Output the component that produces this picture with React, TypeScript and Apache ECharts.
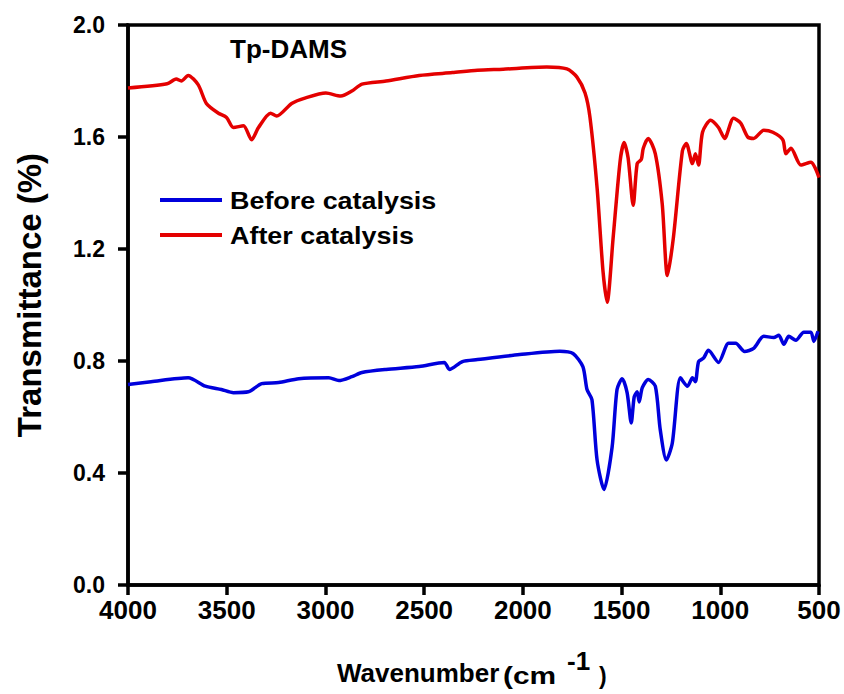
import React, { useEffect, useRef } from "react";
import * as echarts from "echarts";

// FTIR spectra of Tp-DAMS: wavenumber (cm^-1) vs transmittance
const afterWn = [
  4000, 3802, 3756, 3730, 3695, 3644, 3603, 3542, 3501, 3466,
  3415, 3374, 3339, 3278, 3247, 3171, 3100, 2998, 2922, 2866,
  2815, 2693, 2525, 2357, 2230, 2100, 1879, 1777, 1726, 1685,
  1660, 1624, 1594, 1573, 1543, 1507, 1487, 1467, 1441, 1421,
  1400, 1390, 1365, 1329, 1294, 1268, 1238, 1192, 1172, 1141,
  1126, 1110, 1090, 1049, 1009, 978, 933, 897, 861, 831,
  780, 734, 683, 668, 642, 592, 541, 500,
];
const afterT = [
  1.775, 1.79, 1.807, 1.8, 1.82, 1.786, 1.72, 1.685, 1.67, 1.634,
  1.64, 1.59, 1.634, 1.685, 1.675, 1.72, 1.74, 1.757, 1.746, 1.764,
  1.789, 1.8, 1.82, 1.83, 1.838, 1.842, 1.85, 1.843, 1.814, 1.757,
  1.67, 1.418, 1.12, 1.01, 1.238, 1.516, 1.58, 1.526, 1.356, 1.505,
  1.52, 1.56, 1.595, 1.54, 1.36, 1.105, 1.238, 1.55, 1.577, 1.505,
  1.54, 1.5, 1.617, 1.66, 1.634, 1.595, 1.667, 1.65, 1.6, 1.595,
  1.624, 1.617, 1.59, 1.54, 1.56, 1.5, 1.51, 1.455,
];

const beforeWn = [
  4000, 3883, 3695, 3608, 3527, 3466, 3390, 3323, 3237, 3135,
  2983, 2932, 2866, 2815, 2693, 2525, 2398, 2372, 2306, 2230,
  2016, 1813, 1746, 1696, 1675, 1650, 1624, 1589, 1548, 1523,
  1497, 1472, 1451, 1436, 1421, 1411, 1395, 1365, 1329, 1304,
  1273, 1243, 1202, 1166, 1141, 1126, 1110, 1085, 1060, 1009,
  958, 922, 877, 831, 780, 729, 704, 678, 653, 617,
  577, 541, 526, 505,
];
const beforeT = [
  0.716, 0.726, 0.74, 0.71, 0.698, 0.687, 0.69, 0.719, 0.723, 0.737,
  0.74, 0.73, 0.744, 0.759, 0.77, 0.78, 0.795, 0.77, 0.798, 0.805,
  0.823, 0.835, 0.827, 0.78, 0.698, 0.662, 0.446, 0.341, 0.492, 0.698,
  0.737, 0.687, 0.579, 0.672, 0.69, 0.654, 0.705, 0.734, 0.71, 0.554,
  0.446, 0.507, 0.74, 0.71, 0.74, 0.726, 0.798, 0.81, 0.838, 0.795,
  0.863, 0.863, 0.834, 0.845, 0.888, 0.884, 0.892, 0.86, 0.888, 0.874,
  0.903, 0.903, 0.87, 0.906,
];

const seriesNames = ["Before catalysis", "After catalysis"];
const seriesColors = ["#0000dc", "#e40000"];
const sampleName = "Tp-DAMS";

const FONT = "'Liberation Sans', Arial, sans-serif";

function pairs(xs: number[], ys: number[]) {
  return xs.map((x, i) => [x, ys[i]]);
}

export default function App() {
  const ref = useRef<HTMLDivElement>(null);

  useEffect(() => {
    if (!ref.current) return;
    const chart = echarts.init(ref.current, null, { renderer: "svg" });

    const legendItems = seriesNames.map((name, i) => ({
      type: "group",
      children: [
        {
          type: "line",
          shape: { x1: 160, y1: 200 + i * 35, x2: 222, y2: 200 + i * 35 },
          style: { stroke: seriesColors[i], lineWidth: 4 },
        },
        {
          type: "text",
          x: 230,
          y: 201 + i * 35,
          scaleX: 1.17,
          style: {
            text: name,
            fill: "#000",
            font: `bold 23px ${FONT}`,
            textAlign: "left",
            textVerticalAlign: "middle",
          },
        },
      ],
    }));

    const axisStroke = { color: "#000", width: 3.5 };

    chart.setOption({
      animation: false,
      backgroundColor: "#fff",
      title: {
        text: sampleName,
        left: 230,
        top: 36,
        padding: 0,
        textStyle: { fontFamily: FONT, fontWeight: "bold", fontSize: 26, color: "#000" },
      },
      grid: {
        left: 128,
        right: 25,
        top: 25,
        bottom: 109,
        show: true,
        borderColor: "#000",
        borderWidth: 3.5,
        backgroundColor: "transparent",
      },
      xAxis: {
        type: "value",
        min: 500,
        max: 4000,
        interval: 500,
        inverse: true,
        axisLine: { show: true, lineStyle: axisStroke },
        axisTick: { show: true, inside: false, length: 10, lineStyle: axisStroke },
        axisLabel: {
          margin: 12,
          color: "#000",
          fontFamily: FONT,
          fontWeight: "bold",
          fontSize: 26,
          showMinLabel: true,
          showMaxLabel: true,
          formatter: (v: number) => String(v),
        },
        splitLine: { show: false },
      },
      yAxis: {
        type: "value",
        min: 0,
        max: 2,
        interval: 0.4,
        axisLine: { show: true, lineStyle: axisStroke },
        axisTick: { show: true, inside: false, length: 10, lineStyle: axisStroke },
        axisLabel: {
          margin: 23,
          color: "#000",
          fontFamily: FONT,
          fontWeight: "bold",
          fontSize: 23,
          formatter: (v: number) => v.toFixed(1),
        },
        splitLine: { show: false },
      },
      series: [
        {
          name: seriesNames[0],
          type: "line",
          data: pairs(beforeWn, beforeT),
          symbol: "none",
          smooth: 0.25,
          lineStyle: { color: seriesColors[0], width: 3.5 },
          z: 3,
        },
        {
          name: seriesNames[1],
          type: "line",
          data: pairs(afterWn, afterT),
          symbol: "none",
          smooth: 0.25,
          lineStyle: { color: seriesColors[1], width: 3.5 },
          z: 3,
        },
      ],
      graphic: [
        ...legendItems,
        {
          type: "text",
          x: 29,
          y: 295,
          rotation: Math.PI / 2,
          style: {
            text: "Transmittance (%)",
            fill: "#000",
            font: `bold 33px ${FONT}`,
            textAlign: "center",
            textVerticalAlign: "middle",
          },
        },
        {
          type: "text",
          x: 337,
          y: 673,
          style: {
            text: "Wavenumber",
            fill: "#000",
            font: `bold 26px ${FONT}`,
            textAlign: "left",
            textVerticalAlign: "middle",
          },
        },
        {
          type: "text",
          x: 503,
          y: 676,
          scaleX: 1.3,
          style: {
            text: "(cm",
            fill: "#000",
            font: `bold 23px ${FONT}`,
            textAlign: "left",
            textVerticalAlign: "middle",
          },
        },
        {
          type: "text",
          x: 567,
          y: 661,
          style: {
            text: "-1",
            fill: "#000",
            font: `bold 26px ${FONT}`,
            textAlign: "left",
            textVerticalAlign: "middle",
          },
        },
        {
          type: "text",
          x: 599,
          y: 676,
          style: {
            text: ")",
            fill: "#000",
            font: `bold 23px ${FONT}`,
            textAlign: "left",
            textVerticalAlign: "middle",
          },
        },
      ],
    });

    return () => chart.dispose();
  }, []);

  return (
    <div
      ref={ref}
      style={{ position: "absolute", left: 0, top: 0, width: 844, height: 694 }}
    />
  );
}
